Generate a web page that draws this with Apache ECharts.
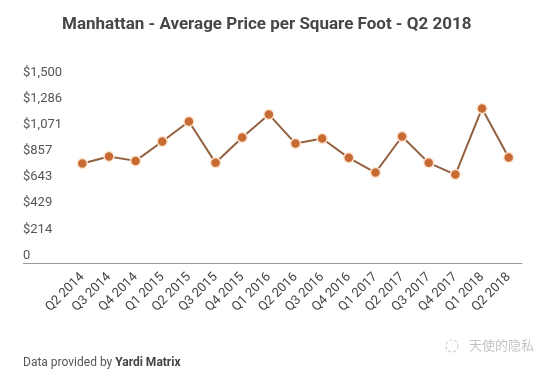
<!DOCTYPE html>
<html>
<head>
<meta charset="utf-8">
<script src="https://cdn.jsdelivr.net/npm/echarts@6/dist/echarts.min.js"></script>
<style>
html,body{margin:0;padding:0;background:#fff;}
#c{width:551px;height:371px;}
</style>
</head>
<body>
<div id="c"></div>
<script>
var categories = ['Q2 2014','Q3 2014','Q4 2014','Q1 2015','Q2 2015','Q3 2015','Q4 2015','Q1 2016','Q2 2016','Q3 2016','Q4 2016','Q1 2017','Q2 2017','Q3 2017','Q4 2017','Q1 2018','Q2 2018'];
var pricePerSqFt = [815, 873, 837, 996, 1160, 821, 1029, 1218, 979, 1021, 862, 741, 1037, 821, 725, 1267, 865];
var yTickLabels = ['0', '$214', '$429', '$643', '$857', '$1,071', '$1,286', '$1,500'];
var yMax = 1500;

var chart = echarts.init(document.getElementById('c'), null, {renderer: 'canvas'});
var font = 'Roboto, "Noto Sans", sans-serif';
var option = {
  backgroundColor: '#ffffff',
  animation: false,
  title: {
    text: 'Manhattan - Average Price per Square Foot - Q2 2018',
    left: 57,
    top: 11,
    textStyle: {fontFamily: font, fontSize: 17, fontWeight: 'bold', color: '#474747'}
  },
  grid: {left: 69, right: 29, top: 80, bottom: 108, containLabel: false},
  xAxis: {
    type: 'category',
    data: categories,
    boundaryGap: true,
    axisLine: {show: true, lineStyle: {color: '#9a9a9a', width: 1}},
    axisTick: {show: false},
    axisLabel: {rotate: 45, interval: 0, margin: 12, fontFamily: font, fontSize: 13, color: '#444'},
    splitLine: {show: false}
  },
  yAxis: {
    type: 'value',
    min: 0,
    max: yMax,
    interval: yMax / 7,
    axisLine: {show: false},
    axisTick: {show: false},
    splitLine: {show: false},
    axisLabel: {
      align: 'left',
      verticalAlign: 'bottom',
      margin: 46,
      padding: [0, 0, 1, 0],
      fontFamily: font,
      fontSize: 13,
      color: '#555',
      formatter: function (v, i) { return yTickLabels[i] !== undefined ? yTickLabels[i] : ''; }
    }
  },
  series: [{
    type: 'line',
    data: pricePerSqFt,
    symbol: 'circle',
    symbolSize: 10,
    lineStyle: {color: '#93613f', width: 2},
    itemStyle: {color: '#c86a33', borderColor: '#fde6d3', borderWidth: 1.5},
    z: 3
  }],
  graphic: []
};
chart.setOption(option);

var y0 = chart.convertToPixel({yAxisIndex: 0}, 0);
chart.setOption({
  graphic: [
    {type: 'line', shape: {x1: 23, y1: y0 + 0.5, x2: 69, y2: y0 + 0.5}, style: {stroke: '#9a9a9a', lineWidth: 1}, silent: true},
    {type: 'text', left: 23, top: 357, style: {rich: {n: {fontFamily: font, fontSize: 12, fill: '#555'}, b: {fontFamily: font, fontSize: 12, fontWeight: 'bold', fill: '#444'}}, text: '{n|Data provided by }{b|Yardi Matrix}'}},
    {type: 'circle', shape: {cx: 452, cy: 346, r: 6}, style: {fill: 'none', stroke: '#d0d0d0', lineWidth: 1.2, lineDash: [3, 2]}, silent: true},
    {type: 'text', left: 469, top: 339, style: {text: '天使的隐私', fontFamily: '"Noto Sans CJK SC", sans-serif', fontSize: 13, fill: '#c4c4c4'}}
  ]
});
</script>
</body>
</html>
